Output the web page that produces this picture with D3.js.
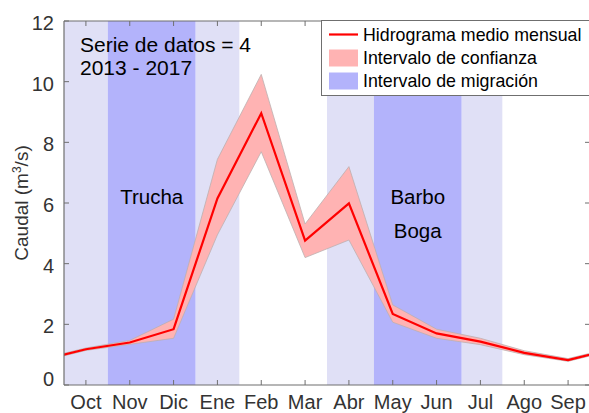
<!DOCTYPE html>
<html>
<head>
<meta charset="utf-8">
<script src="https://cdn.jsdelivr.net/npm/d3@7"></script>
<style>
  html, body { margin: 0; padding: 0; background: #fff; }
  svg { display: block; font-family: "Liberation Sans", Arial, Helvetica, sans-serif; }
</style>
</head>
<body>
<svg id="chart" width="589" height="413"></svg>
<script>
// Hydrological year, October to September
const months = ["Oct", "Nov", "Dic", "Ene", "Feb", "Mar", "Abr", "May", "Jun", "Jul", "Ago", "Sep"];
// Mean monthly discharge (m3/s)
const meanFlow  = [1.18, 1.40, 1.84, 6.15, 8.96, 4.76, 5.99, 2.34, 1.70, 1.43, 1.06, 0.82];
// Confidence interval limits
const upperFlow = [1.22, 1.47, 2.17, 7.44, 10.24, 5.31, 7.20, 2.64, 1.84, 1.54, 1.13, 0.87];
const lowerFlow = [1.14, 1.34, 1.54, 4.95, 7.69, 4.20, 4.78, 2.07, 1.54, 1.33, 1.00, 0.78];
// Migration windows (month positions), edge ones lighter
const edgeWindows = [[0.5, 1.5], [3.5, 4.5], [6.5, 7.57], [9.57, 10.5]];
const coreWindows = [[1.5, 3.5], [7.57, 9.57]];
const yTicks = [0, 2, 4, 6, 8, 10, 12];

const svg = d3.select("#chart");
const plotL = 64, plotR = 590, plotT = 21, plotB = 385;

const x = d3.scaleLinear().domain([0.5, 12.5]).range([plotL, plotR]);
const y = d3.scaleLinear().domain([0, 12]).range([plotB, plotT]);

svg.append("defs").append("clipPath").attr("id", "plotClip")
  .append("rect").attr("x", plotL).attr("y", plotT)
  .attr("width", plotR - plotL).attr("height", plotB - plotT);

const plot = svg.append("g").attr("clip-path", "url(#plotClip)");

// Migration windows
plot.selectAll("rect.edge").data(edgeWindows).join("rect")
  .attr("class", "edge")
  .attr("x", d => x(d[0])).attr("width", d => x(d[1]) - x(d[0]))
  .attr("y", plotT).attr("height", plotB - plotT)
  .attr("fill", "#e0e0f6");
plot.selectAll("rect.core").data(coreWindows).join("rect")
  .attr("class", "core")
  .attr("x", d => x(d[0])).attr("width", d => x(d[1]) - x(d[0]))
  .attr("y", plotT).attr("height", plotB - plotT)
  .attr("fill", "#b3b3fb");

// Cyclic series: previous September before October, next October after September
const n = months.length;
const series = d3.range(-1, n + 1).map(i => {
  const k = (i + n) % n;
  return { pos: i + 1, mean: meanFlow[k], hi: upperFlow[k], lo: lowerFlow[k] };
});

const band = d3.area()
  .x(d => x(d.pos)).y0(d => y(d.lo)).y1(d => y(d.hi));
plot.append("path").datum(series)
  .attr("d", band)
  .attr("fill", "#ffb3b3")
  .attr("stroke", "#bdb0b0").attr("stroke-width", 0.8);

const line = d3.line().x(d => x(d.pos)).y(d => y(d.mean));
plot.append("path").datum(series)
  .attr("d", line)
  .attr("fill", "none")
  .attr("stroke", "#ff0000").attr("stroke-width", 2.2)
  .attr("stroke-linejoin", "miter");

// Axes
const axisColor = "#6f6f6f";
const tickLen = 5;
const axes = svg.append("g");

// Box
axes.append("line").attr("x1", plotL).attr("x2", plotR).attr("y1", plotB).attr("y2", plotB)
  .attr("stroke", axisColor).attr("stroke-width", 1.2);
axes.append("line").attr("x1", plotL).attr("x2", plotR).attr("y1", plotT).attr("y2", plotT)
  .attr("stroke", axisColor).attr("stroke-width", 1.2);
axes.append("line").attr("x1", plotL).attr("x2", plotL).attr("y1", plotT).attr("y2", plotB)
  .attr("stroke", axisColor).attr("stroke-width", 1.2);

const monthPos = months.map((m, i) => i + 1);
// inner ticks, bottom and top
axes.selectAll("line.xb").data(monthPos).join("line")
  .attr("class", "xb")
  .attr("x1", d => x(d)).attr("x2", d => x(d))
  .attr("y1", plotB).attr("y2", plotB - tickLen)
  .attr("stroke", axisColor);
axes.selectAll("line.xt").data(monthPos).join("line")
  .attr("class", "xt")
  .attr("x1", d => x(d)).attr("x2", d => x(d))
  .attr("y1", plotT).attr("y2", plotT + tickLen)
  .attr("stroke", axisColor);
axes.selectAll("line.yl").data(yTicks).join("line")
  .attr("class", "yl")
  .attr("x1", plotL).attr("x2", plotL + tickLen)
  .attr("y1", d => y(d)).attr("y2", d => y(d))
  .attr("stroke", axisColor);
axes.selectAll("line.yr").data(yTicks).join("line")
  .attr("class", "yr")
  .attr("x1", plotR).attr("x2", plotR - tickLen)
  .attr("y1", d => y(d)).attr("y2", d => y(d))
  .attr("stroke", axisColor);

// Tick labels
axes.selectAll("text.xlab").data(months).join("text")
  .attr("class", "xlab")
  .attr("x", (d, i) => x(i + 1)).attr("y", 409)
  .attr("text-anchor", "middle")
  .attr("font-size", 20).attr("fill", "#333")
  .text(d => d);
axes.selectAll("text.ylab").data(yTicks).join("text")
  .attr("class", "ylab")
  .attr("x", 54).attr("y", d => d === 0 ? y(d) - 6 : y(d) + 2)
  .attr("text-anchor", "end").attr("dominant-baseline", "central")
  .attr("font-size", 20).attr("fill", "#333")
  .text(d => d);

// Y axis title
const yTitle = svg.append("text")
  .attr("transform", `translate(28,${(plotT + plotB) / 2}) rotate(-90)`)
  .attr("text-anchor", "middle")
  .attr("font-size", 19).attr("fill", "#333");
yTitle.append("tspan").text("Caudal (m");
yTitle.append("tspan").attr("font-size", 12).attr("dy", -7).text("3");
yTitle.append("tspan").attr("dy", 7).text("/s)");

// Annotations
const notes = svg.append("g").attr("fill", "#000");
notes.append("text").attr("x", 80).attr("y", 52).attr("font-size", 21).text("Serie de datos = 4");
notes.append("text").attr("x", 80).attr("y", 75).attr("font-size", 21).text("2013 - 2017");
notes.append("text").attr("x", x(2.5)).attr("y", 204).attr("font-size", 20.5)
  .attr("text-anchor", "middle").text("Trucha");
notes.append("text").attr("x", x(8.57)).attr("y", 204).attr("font-size", 20.5)
  .attr("text-anchor", "middle").text("Barbo");
notes.append("text").attr("x", x(8.57)).attr("y", 238).attr("font-size", 20.5)
  .attr("text-anchor", "middle").text("Boga");

// Legend
const lg = svg.append("g");
lg.append("rect").attr("x", 321.5).attr("y", 20.5).attr("width", 268).attr("height", 75)
  .attr("fill", "#fff").attr("stroke", "#6f6f6f").attr("stroke-width", 1);
const legendItems = [
  { label: "Hidrograma medio mensual", kind: "line", color: "#ff0000" },
  { label: "Intervalo de confianza", kind: "patch", color: "#ffb3b3" },
  { label: "Intervalo de migración", kind: "patch", color: "#b3b3fb" }
];
const rowY = [34.5, 58, 81];
legendItems.forEach((it, i) => {
  const cy = rowY[i];
  if (it.kind === "line") {
    lg.append("line").attr("x1", 329).attr("x2", 358).attr("y1", cy).attr("y2", cy)
      .attr("stroke", it.color).attr("stroke-width", 2.2);
  } else {
    lg.append("rect").attr("x", 329).attr("y", cy - 8.5).attr("width", 29).attr("height", 17)
      .attr("fill", it.color);
  }
  lg.append("text").attr("x", 363).attr("y", cy).attr("dominant-baseline", "central")
    .attr("font-size", 17.8).attr("fill", "#000").text(it.label);
});
</script>
</body>
</html>
